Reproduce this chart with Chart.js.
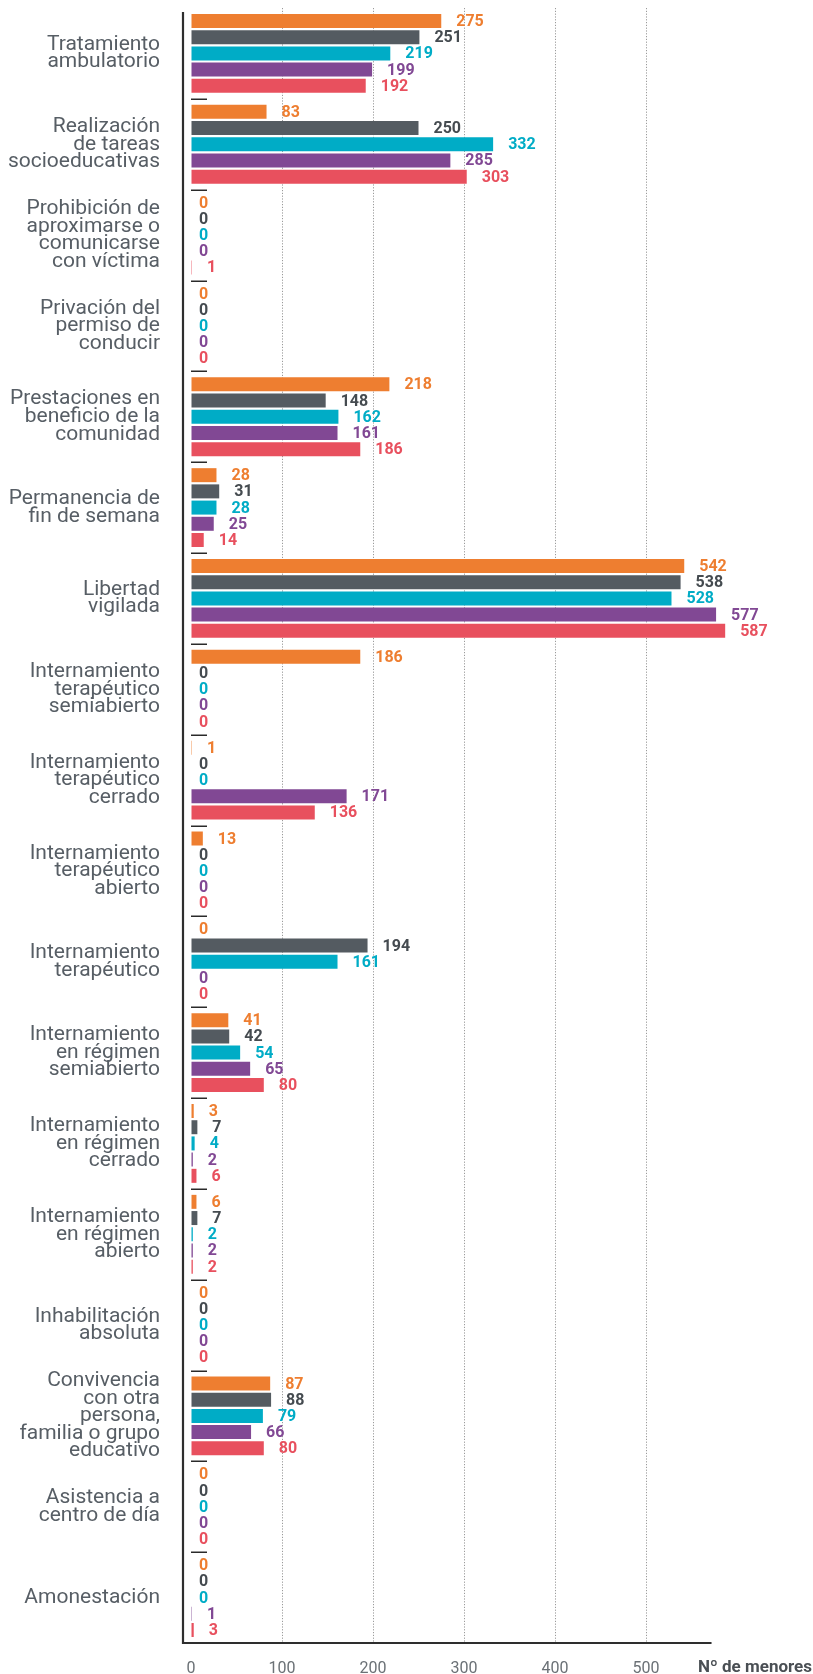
<!DOCTYPE html>
<html>
<head>
<meta charset="utf-8">
<script src="https://cdn.jsdelivr.net/npm/chart.js@4/dist/chart.umd.min.js"></script>
<style>
  html, body { margin: 0; padding: 0; background: #ffffff; }
  #wrap { position: relative; width: 813px; height: 1674px; }
</style>
</head>
<body>
<div id="wrap"><canvas id="c"></canvas></div>
<script>
const categories = [
  ["Tratamiento","ambulatorio"],
  ["Realización","de tareas","socioeducativas"],
  ["Prohibición de","aproximarse o","comunicarse","con víctima"],
  ["Privación del","permiso de","conducir"],
  ["Prestaciones en","beneficio de la","comunidad"],
  ["Permanencia de","fin de semana"],
  ["Libertad","vigilada"],
  ["Internamiento","terapéutico","semiabierto"],
  ["Internamiento","terapéutico","cerrado"],
  ["Internamiento","terapéutico","abierto"],
  ["Internamiento","terapéutico"],
  ["Internamiento","en régimen","semiabierto"],
  ["Internamiento","en régimen","cerrado"],
  ["Internamiento","en régimen","abierto"],
  ["Inhabilitación","absoluta"],
  ["Convivencia","con otra","persona,","familia o grupo","educativo"],
  ["Asistencia a","centro de día"],
  ["Amonestación"]
];

const seriesNames = ["Serie 1", "Serie 2", "Serie 3", "Serie 4", "Serie 5"];

const serie1 = [275, 83, 0, 0, 218, 28, 542, 186, 1, 13, 0, 41, 3, 6, 0, 87, 0, 0];
const serie2 = [251, 250, 0, 0, 148, 31, 538, 0, 0, 0, 194, 42, 7, 7, 0, 88, 0, 0];
const serie3 = [219, 332, 0, 0, 162, 28, 528, 0, 0, 0, 161, 54, 4, 2, 0, 79, 0, 0];
const serie4 = [199, 285, 0, 0, 161, 25, 577, 0, 171, 0, 0, 65, 2, 2, 0, 66, 0, 1];
const serie5 = [192, 303, 1, 0, 186, 14, 587, 0, 136, 0, 0, 80, 6, 2, 0, 80, 0, 3];

const xTicks = [0, 100, 200, 300, 400, 500];
const axisTitle = "Nº de menores";

const barColors = ["#EE7E30", "#545B61", "#00ACC6", "#814894", "#E8505E"];
const labelColors = ["#EE7E30", "#454B50", "#00ACC6", "#814894", "#E8505E"];

const allSeries = [serie1, serie2, serie3, serie4, serie5];

const decorPlugin = {
  id: 'decor',
  afterDatasetsDraw(chart) {
    const ctx = chart.ctx;
    const xs = chart.scales.x;
    const ys = chart.scales.y;
    const x0 = xs.getPixelForValue(0);
    ctx.save();
    // category separators
    ctx.strokeStyle = "#2a2a2a";
    ctx.lineWidth = 1.5;
    for (let i = 0; i < categories.length - 1; i++) {
      const yb = (ys.getPixelForValue(i) + ys.getPixelForValue(i + 1)) / 2;
      ctx.beginPath();
      ctx.moveTo(x0, Math.round(yb) + 0.25);
      ctx.lineTo(x0 + 16, Math.round(yb) + 0.25);
      ctx.stroke();
    }
    // axis lines
    const axX = x0 - 8;
    const bottom = chart.chartArea.bottom;
    ctx.strokeStyle = "#2e2e2e";
    ctx.lineWidth = 2.2;
    ctx.beginPath();
    ctx.moveTo(axX, chart.chartArea.top + 4);
    ctx.lineTo(axX, bottom + 1);
    ctx.stroke();
    ctx.beginPath();
    ctx.moveTo(axX - 1, bottom);
    ctx.lineTo(xs.getPixelForValue(572), bottom);
    ctx.stroke();
    // value labels
    ctx.font = "bold 16px Roboto";
    ctx.textAlign = "left";
    ctx.textBaseline = "middle";
    chart.data.datasets.forEach((ds, di) => {
      const meta = chart.getDatasetMeta(di);
      meta.data.forEach((bar, i) => {
        const v = ds.data[i];
        const off = v === 0 ? 8 : 15;
        ctx.fillStyle = labelColors[di];
        ctx.fillText(String(v), bar.x + off, bar.y + 1);
      });
    });
    // axis title
    ctx.font = "bold 17px Roboto";
    ctx.fillStyle = "#4a4f54";
    ctx.textAlign = "right";
    ctx.fillText(axisTitle, 812, bottom + 25);
    ctx.restore();
  }
};

new Chart(document.getElementById('c'), {
  type: 'bar',
  data: {
    labels: categories,
    datasets: allSeries.map((d, i) => ({
      label: seriesNames[i],
      data: d,
      backgroundColor: barColors[i],
      borderWidth: 0,
      categoryPercentage: 0.892,
      barPercentage: 0.864
    }))
  },
  options: {
    indexAxis: 'y',
    responsive: true,
    maintainAspectRatio: false,
    animation: false,
    layout: { padding: { top: 8, right: 0, bottom: 0, left: 0 } },
    plugins: { legend: { display: false }, tooltip: { enabled: false } },
    scales: {
      x: {
        type: 'linear',
        min: 0,
        max: 683.5,
        afterFit: (s) => { s.height = 31; s.paddingLeft = 0; s.paddingRight = 0; },
        afterBuildTicks: (s) => { s.ticks = xTicks.map(v => ({ value: v })); },
        border: { display: false, dash: [1.2, 1.6] },
        grid: {
          drawTicks: false,
          color: (c) => (c.tick && c.tick.value > 0 ? "#9a9a9a" : "rgba(0,0,0,0)"),
          lineWidth: 1
        },
        ticks: {
          padding: 16,
          color: "#6b7176",
          font: { family: "Roboto", size: 16 },
          maxRotation: 0
        }
      },
      y: {
        type: 'category',
        afterFit: (s) => { s.width = 191; s.paddingTop = 0; s.paddingBottom = 0; },
        border: { display: false },
        grid: { display: false, drawTicks: false },
        ticks: {
          autoSkip: false,
          padding: 31,
          color: "#575e65",
          font: { family: "Roboto", size: 21, lineHeight: 0.835 }
        }
      }
    }
  },
  plugins: [decorPlugin]
});
</script>
</body>
</html>
